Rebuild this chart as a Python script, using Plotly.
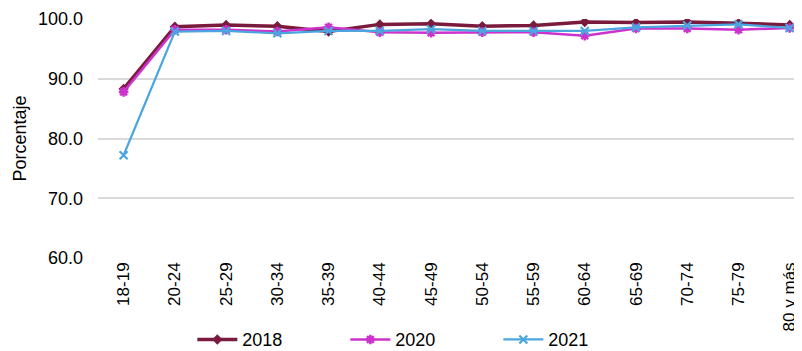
import plotly.graph_objects as go

# Age groups and participation rates (%)
age_groups = ["18-19", "20-24", "25-29", "30-34", "35-39", "40-44", "45-49",
              "50-54", "55-59", "60-64", "65-69", "70-74", "75-79", "80 y más"]
pct_2018 = [88.3, 98.7, 99.0, 98.8, 97.9, 99.1, 99.2, 98.8, 98.9, 99.5, 99.4, 99.5, 99.3, 99.0]
pct_2020 = [87.8, 98.2, 98.2, 97.9, 98.6, 97.8, 97.7, 97.8, 97.8, 97.2, 98.4, 98.4, 98.2, 98.5]
pct_2021 = [77.2, 97.9, 98.0, 97.6, 98.0, 98.0, 98.3, 98.0, 98.0, 98.0, 98.6, 98.9, 99.1, 98.5]

fig = go.Figure()
fig.add_trace(go.Scatter(
    x=age_groups, y=pct_2018, name="2018", mode="lines+markers",
    line=dict(color="#7A1A3C", width=3.5),
    marker=dict(symbol="diamond", size=8, color="#7A1A3C"),
))
fig.add_trace(go.Scatter(
    x=age_groups, y=pct_2020, name="2020", mode="lines+markers",
    line=dict(color="#CC33CC", width=2.5),
    marker=dict(symbol="asterisk-open", size=8, line=dict(color="#B0186E", width=2.5)),
))
fig.add_trace(go.Scatter(
    x=age_groups, y=pct_2021, name="2021", mode="lines+markers",
    line=dict(color="#4BA6E0", width=2.2),
    marker=dict(symbol="x-thin-open", size=8, line=dict(color="#4BA6E0", width=2.2)),
))

# page body adds an 8px offset, so the figure is sized 794x343
fig.update_layout(
    width=794, height=343,
    margin=dict(l=90, r=0, t=11, b=93, autoexpand=False),
    paper_bgcolor="white", plot_bgcolor="white",
    font=dict(family="Liberation Sans, Arial, sans-serif", size=18, color="#000000"),
    showlegend=True,
    legend=dict(
        orientation="h", x=0.134, xanchor="left", y=-0.342, yanchor="middle",
        entrywidth=98, entrywidthmode="pixels",
        font=dict(size=18), itemwidth=40,
    ),
)
fig.update_xaxes(
    type="category", range=[-0.5, 13.24], tickangle=-90, automargin=False,
    showgrid=False, showline=False, ticks="", tickfont=dict(size=17),
)
fig.update_yaxes(
    range=[60, 100], dtick=10, tickformat=".1f", automargin=False,
    showgrid=True, gridcolor="#D9D9D9", gridwidth=1.5,
    zeroline=False, showline=False, ticks="", ticklabelstandoff=14,
    title=dict(text="Porcentaje", font=dict(size=18), standoff=6),
    tickfont=dict(size=18),
)

fig.write_html("out.html")
